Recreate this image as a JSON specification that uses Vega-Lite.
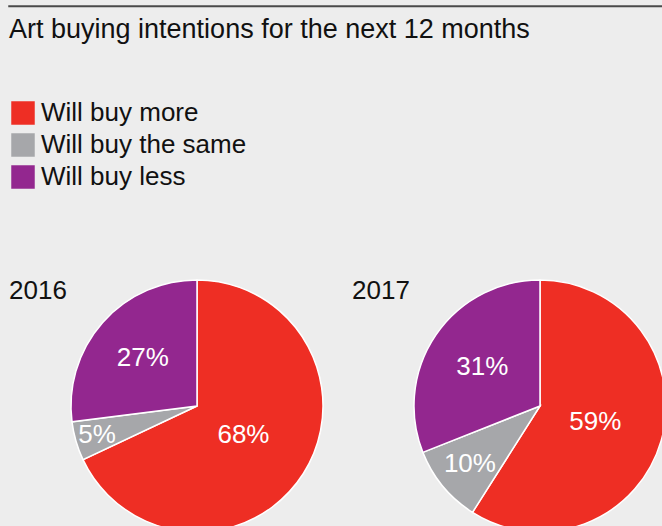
{
  "$schema": "https://vega.github.io/schema/vega-lite/v6.json",
  "background": "#ededed",
  "padding": {"left": 8, "top": 5, "right": 0, "bottom": 0},
  "data": {
    "values": [
      {"year": "2016", "category": "Will buy more", "value": 0.68, "rank": 1},
      {"year": "2016", "category": "Will buy the same", "value": 0.05, "rank": 2},
      {"year": "2016", "category": "Will buy less", "value": 0.27, "rank": 3},
      {"year": "2017", "category": "Will buy more", "value": 0.59, "rank": 1},
      {"year": "2017", "category": "Will buy the same", "value": 0.10, "rank": 2},
      {"year": "2017", "category": "Will buy less", "value": 0.31, "rank": 3}
    ]
  },
  "spacing": 8,
  "vconcat": [
    {
      "width": 654,
      "height": 0.5,
      "data": {"values": []},
      "mark": "point",
      "encoding": {},
      "view": {"stroke": "#4a4a4a", "fill": "#4a4a4a", "strokeWidth": 1.5}
    },
    {
      "title": {
        "text": "Art buying intentions for the next 12 months",
        "anchor": "start",
        "frame": "group",
        "fontSize": 27,
        "fontWeight": "normal",
        "font": "Liberation Sans",
        "color": "#111111",
        "offset": 233
      },
      "bounds": "flush",
      "spacing": 0,
      "hconcat": [
        {
          "title": {"text": "2016", "anchor": "start", "frame": "group", "fontSize": 26, "fontWeight": "normal", "font": "Liberation Sans", "color": "#111111", "offset": -27},
          "width": 376,
          "height": 240,
          "transform": [{"filter": {"field": "year", "equal": "2016"}}],
          "layer": [
            {
              "mark": {"type": "arc", "outerRadius": 126, "stroke": "white", "strokeWidth": 1.5},
              "encoding": {
                "theta": {"field": "value", "type": "quantitative", "stack": true},
                "order": {"field": "rank", "type": "quantitative"},
                "color": {
                  "field": "category",
                  "type": "nominal",
                  "scale": {
                    "domain": ["Will buy more", "Will buy the same", "Will buy less"],
                    "range": ["#ee2e24", "#a6a7aa", "#93278f"]
                  },
                  "legend": {
                    "title": null,
                    "orient": "none",
                    "legendX": 1,
                    "legendY": 94,
                    "symbolType": "square",
                    "symbolSize": 552,
                    "symbolStrokeWidth": 0,
                    "symbolOpacity": 1,
                    "labelFontSize": 26,
                    "labelFont": "Liberation Sans",
                    "labelColor": "#111111",
                    "labelOffset": 5,
                    "labelLimit": 400,
                    "rowPadding": 6,
                    "padding": 0
                  }
                }
              }
            },
            {
              "mark": {"type": "text", "color": "white", "fontSize": 26, "font": "Liberation Sans", "align": "center", "baseline": "middle"},
              "encoding": {
                "theta": {"field": "value", "type": "quantitative", "stack": true},
                "radius": {
                  "field": "value",
                  "type": "quantitative",
                  "scale": {"type": "log", "domain": [0.05, 0.68], "range": [104, 55]}
                },
                "order": {"field": "rank", "type": "quantitative"},
                "detail": {"field": "category"},
                "text": {"field": "value", "type": "quantitative", "format": ".0%"}
              }
            }
          ]
        },
        {
          "title": {"text": "2017", "anchor": "start", "frame": "group", "fontSize": 26, "fontWeight": "normal", "font": "Liberation Sans", "color": "#111111", "offset": -27, "dx": -33},
          "width": 310,
          "height": 240,
          "transform": [{"filter": {"field": "year", "equal": "2017"}}],
          "layer": [
            {
              "mark": {"type": "arc", "outerRadius": 126, "stroke": "white", "strokeWidth": 1.5},
              "encoding": {
                "theta": {"field": "value", "type": "quantitative", "stack": true},
                "order": {"field": "rank", "type": "quantitative"},
                "color": {
                  "field": "category",
                  "type": "nominal",
                  "scale": {
                    "domain": ["Will buy more", "Will buy the same", "Will buy less"],
                    "range": ["#ee2e24", "#a6a7aa", "#93278f"]
                  },
                  "legend": {
                    "title": null,
                    "orient": "none",
                    "legendX": 1,
                    "legendY": 94,
                    "symbolType": "square",
                    "symbolSize": 552,
                    "symbolStrokeWidth": 0,
                    "symbolOpacity": 1,
                    "labelFontSize": 26,
                    "labelFont": "Liberation Sans",
                    "labelColor": "#111111",
                    "labelOffset": 5,
                    "labelLimit": 400,
                    "rowPadding": 6,
                    "padding": 0
                  }
                }
              }
            },
            {
              "mark": {"type": "text", "color": "white", "fontSize": 26, "font": "Liberation Sans", "align": "center", "baseline": "middle"},
              "encoding": {
                "theta": {"field": "value", "type": "quantitative", "stack": true},
                "radius": {
                  "field": "value",
                  "type": "quantitative",
                  "scale": {"type": "log", "domain": [0.05, 0.68], "range": [104, 55]}
                },
                "order": {"field": "rank", "type": "quantitative"},
                "detail": {"field": "category"},
                "text": {"field": "value", "type": "quantitative", "format": ".0%"}
              }
            }
          ]
        }
      ]
    }
  ],
  "config": {"view": {"stroke": null}}
}
